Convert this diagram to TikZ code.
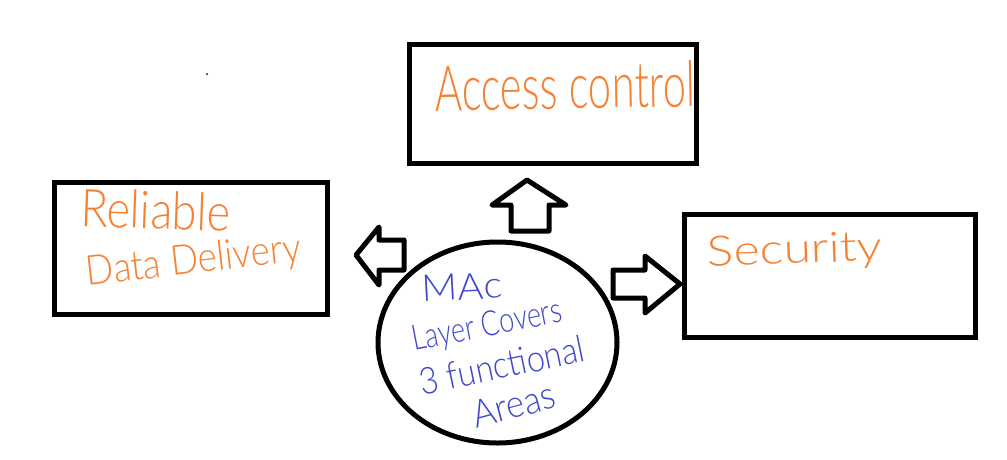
\documentclass[tikz,border=0pt]{standalone}
\usepackage{fontspec}
\setmainfont{Lato Light}
\definecolor{inko}{HTML}{F58233}
\definecolor{inkb}{HTML}{3F48CC}
\tikzset{
  x=1pt,y=-1pt,
  boxshape/.style={draw=black,line width=5pt,outer sep=0pt,inner sep=0pt,anchor=north west,rectangle},
  blockarrow/.style={draw=black,line width=5pt,line join=round,fill=white},
  hando/.style={text=inko,inner sep=0pt},
  handb/.style={text=inkb,inner sep=0pt}
}
\newcommand{\fitw}[3]{\resizebox{#1pt}{#2pt}{#3}}
\begin{document}
\begin{tikzpicture}
\useasboundingbox (0,0) rectangle (1007,459);
\node[boxshape,minimum width=287pt,minimum height=119pt] (access) at (409,44) {};
\node[boxshape,minimum width=273pt,minimum height=132pt] (reliable) at (54,182) {};
\node[boxshape,minimum width=291pt,minimum height=123pt] (security) at (684,214) {};
\draw[black,line width=5pt] (497.5,342.5) ellipse [x radius=119.5pt,y radius=100.5pt];
\coordinate (dot) at (207,74);
\fill[black] (dot) circle (1pt);
\draw[blockarrow] (527,180)--(566,205)--(549,205)--(549,231)--(511,231)--(511,205)--(492,205)--cycle;
\draw[blockarrow] (356,255)--(379,227)--(379,240)--(404,240)--(404,270)--(379,270)--(379,285)--cycle;
\draw[blockarrow] (680,284)--(645,256)--(645,270)--(613,270)--(613,298)--(645,298)--(645,313)--cycle;
\node[hando,rotate=1] (t1) at (565,86) {\fitw{260}{46}{Access control}};
\node[hando,rotate=-2] (t2) at (156,210) {\fitw{150}{38}{Reliable}};
\node[hando,rotate=6.5] (t3) at (194,262) {\fitw{216}{30}{Data Delivery}};
\node[hando,rotate=2] (t4) at (795,252) {\fitw{175}{30}{Security}};
\node[handb,rotate=3] (b1) at (462,287) {\fitw{80}{26}{MAc}};
\node[handb,rotate=11] (b2) at (487,327) {\fitw{152}{25}{Layer Covers}};
\node[handb,rotate=11.7] (b3) at (502,365) {\fitw{168}{27}{3 functional}};
\node[handb,rotate=15] (b4) at (514,405) {\fitw{84}{27}{Areas}};
\end{tikzpicture}
\end{document}
